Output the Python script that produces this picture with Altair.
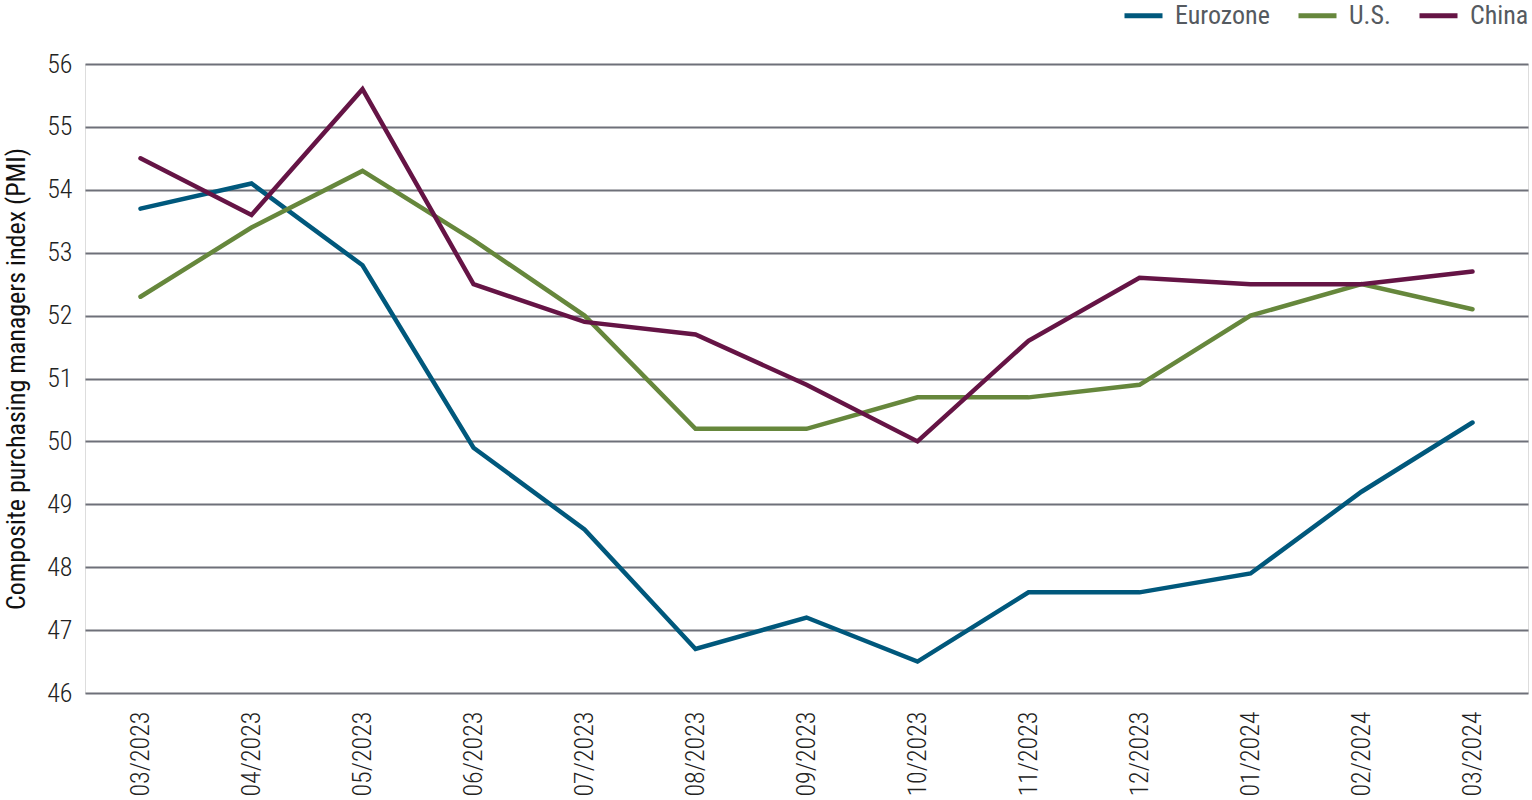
import altair as alt
import pandas as pd

months = ["03/2023", "04/2023", "05/2023", "06/2023", "07/2023", "08/2023", "09/2023",
          "10/2023", "11/2023", "12/2023", "01/2024", "02/2024", "03/2024"]
eurozone = [53.7, 54.1, 52.8, 49.9, 48.6, 46.7, 47.2, 46.5, 47.6, 47.6, 47.9, 49.2, 50.3]
us = [52.3, 53.4, 54.3, 53.2, 52.0, 50.2, 50.2, 50.7, 50.7, 50.9, 52.0, 52.5, 52.1]
china = [54.5, 53.6, 55.6, 52.5, 51.9, 51.7, 50.9, 50.0, 51.6, 52.6, 52.5, 52.5, 52.7]

series = ["Eurozone", "U.S.", "China"]
colors = ["#00587c", "#66873c", "#651445"]

rows = []
for name, vals in zip(series, [eurozone, us, china]):
    for m, v in zip(months, vals):
        rows.append({"month": m, "series": name, "value": v})
df = pd.DataFrame(rows)

FONT = "'Roboto Condensed', 'DejaVu Sans Condensed', 'Liberation Sans Narrow', Roboto, sans-serif"

chart = alt.Chart(df).mark_line(strokeWidth=4.5, strokeCap="round", strokeJoin="miter").encode(
    x=alt.X("month:N", sort=months, title=None,
            scale=alt.Scale(type="point", padding=0.5),
            axis=alt.Axis(labelAngle=270, labelFontSize=26, labelColor="#222222",
                          labelFont=FONT, labelFontWeight=300, labelPadding=18, ticks=False,
                          domain=False, grid=False, labelAlign="right", labelBaseline="middle")),
    y=alt.Y("value:Q", title="Composite purchasing managers index (PMI)",
            scale=alt.Scale(domain=[46, 56], nice=False, zero=False),
            axis=alt.Axis(values=list(range(46, 57)), labelFontSize=26, labelColor="#222222",
                          labelFont=FONT, labelFontWeight=300, labelPadding=13, ticks=False,
                          domain=False, gridColor="#6e7079", gridWidth=2, gridOpacity=1,
                          titleFont=FONT, titleFontSize=26, titleFontWeight="normal",
                          titleColor="#111111", titlePadding=17)),
    color=alt.Color("series:N", sort=series,
                    scale=alt.Scale(domain=series, range=colors),
                    legend=alt.Legend(title=None, orient="none", direction="horizontal",
                                      legendX=1037, legendY=-70,
                                      symbolType="stroke", symbolSize=1444,
                                      symbolStrokeWidth=5, labelFont="Roboto Condensed",
                                      labelFontSize=26, labelColor="#555a60",
                                      columnPadding=18, labelOffset=10)),
).properties(
    width=1443, height=629,
    autosize=alt.AutoSizeParams(type="none"),
    padding={"left": 85, "top": 64, "right": 4, "bottom": 107},
).configure_view(stroke=None).configure(background="white")

chart.save("out.html", embed_options={"renderer": "svg", "actions": False})
